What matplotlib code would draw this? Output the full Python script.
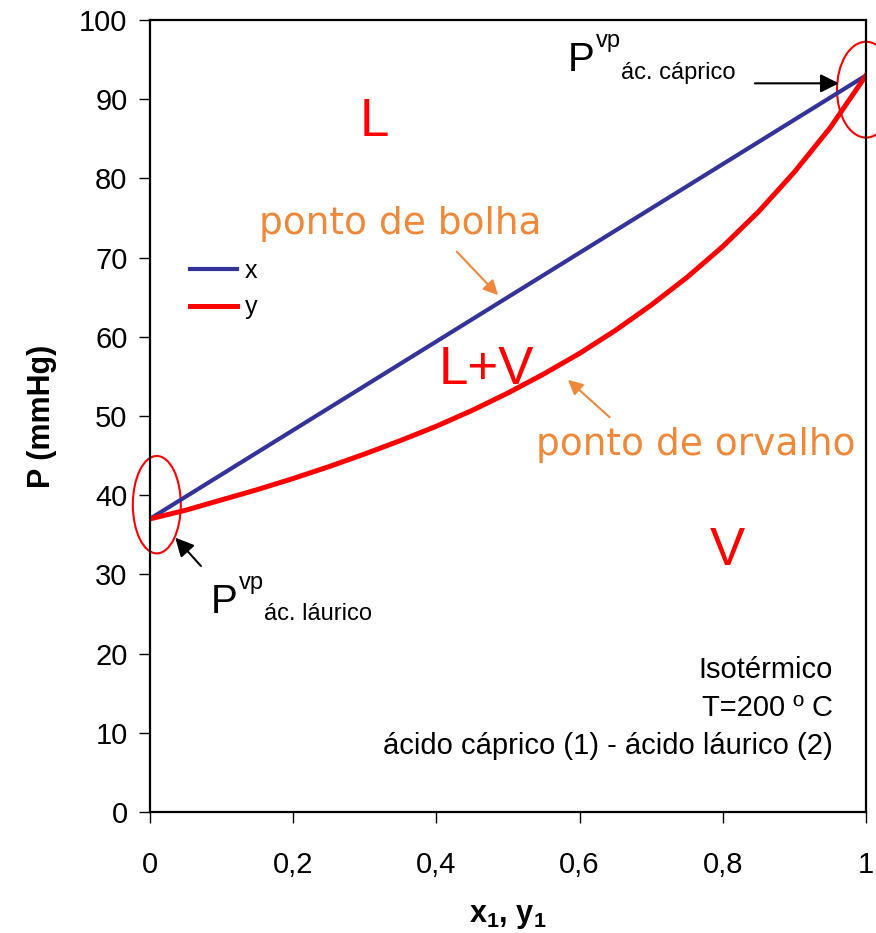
import matplotlib
matplotlib.use('Agg')
import matplotlib.pyplot as plt
from matplotlib.patches import Ellipse
from matplotlib.ticker import FuncFormatter

plt.rcParams['font.family'] = ['Liberation Sans', 'DejaVu Sans']
plt.rcParams['mathtext.fontset'] = 'custom'
plt.rcParams['mathtext.rm'] = 'Liberation Sans'
plt.rcParams['mathtext.bf'] = 'Liberation Sans:bold'

# Data
x1 = [0.0, 0.05, 0.1, 0.15, 0.2, 0.25, 0.3, 0.35, 0.4, 0.45, 0.5,
      0.55, 0.6, 0.65, 0.7, 0.75, 0.8, 0.85, 0.9, 0.95, 1.0]
p_bubble = [37.0, 39.8, 42.6, 45.4, 48.2, 51.0, 53.8, 56.6, 59.4, 62.2, 65.0,
            67.8, 70.6, 73.4, 76.2, 79.0, 81.8, 84.6, 87.4, 90.2, 93.0]
p_dew = [37.0, 38.1, 39.4, 40.7, 42.1, 43.6, 45.2, 46.9, 48.7, 50.7, 52.9,
         55.3, 57.9, 60.8, 64.0, 67.5, 71.4, 75.8, 80.8, 86.4, 93.0]

x_ticks = [0, 0.2, 0.4, 0.6, 0.8, 1.0]
y_ticks = list(range(0, 101, 10))

orange = '#F0883A'
blue = '#333399'

fig = plt.figure(figsize=(8.76, 9.33), dpi=100)
ax = fig.add_axes([0.171, 0.1297, 0.8176, 0.8489])

ax.plot(x1, p_bubble, color=blue, lw=3, label='x')
ax.plot(x1, p_dew, color='red', lw=3.6, label='y')

ax.set_xlim(0, 1)
ax.set_ylim(0, 100)
ax.set_xticks(x_ticks)
ax.set_yticks(y_ticks)
ax.xaxis.set_major_formatter(FuncFormatter(lambda v, p: ('%g' % v).replace('.', ',')))
ax.tick_params(direction='out', length=8, width=1, labelsize=21, pad=8)
ax.tick_params(axis='x', pad=20)
for s in ax.spines.values():
    s.set_linewidth(1.6)

ax.set_xlabel(r'$\mathbf{x_1}$, $\mathbf{y_1}$', fontsize=22, fontweight='bold', labelpad=16)
ax.set_ylabel('P (mmHg)', fontsize=22, fontweight='bold', labelpad=16)

ax.legend(loc='upper left', bbox_to_anchor=(0.042, 0.711), borderaxespad=0, frameon=False,
          fontsize=18, handlelength=1.9, handletextpad=0.3, labelspacing=0.5)

# region labels
ax.text(0.314, 87.1, 'L', color='red', fontsize=38, ha='center', va='center')
ax.text(0.47, 55.8, 'L+V', color='red', fontsize=38, ha='center', va='center')
ax.text(0.806, 33.0, 'V', color='red', fontsize=38, ha='center', va='center')

# bubble / dew annotations
ax.text(0.349, 74.3, 'ponto de bolha', color=orange, fontsize=27, ha='center', va='center',
        family='DejaVu Sans')
ax.annotate('', xy=(0.489, 65.0), xytext=(0.426, 71.0),
            arrowprops=dict(arrowstyle='-|>', color=orange, lw=1.5, mutation_scale=22))
ax.text(0.762, 46.3, 'ponto de orvalho', color=orange, fontsize=27, ha='center', va='center',
        family='DejaVu Sans')
ax.annotate('', xy=(0.581, 54.8), xytext=(0.645, 49.6),
            arrowprops=dict(arrowstyle='-|>', color=orange, lw=1.5, mutation_scale=22))

# pure component vapour pressures
ax.add_patch(Ellipse((1.0, 91.2), 0.081, 12.1, fill=False, ec='red', lw=1.5, clip_on=False))
ax.add_patch(Ellipse((0.0098, 38.8), 0.067, 12.3, fill=False, ec='red', lw=1.5, clip_on=False))

ax.annotate('', xy=(0.966, 92.0), xytext=(0.841, 92.0),
            arrowprops=dict(arrowstyle='-|>', color='black', lw=1.5, mutation_scale=28))
ax.text(0.583, 93.5, 'P', fontsize=29, ha='left', va='baseline')
ax.text(0.623, 96.6, 'vp', fontsize=17, ha='left', va='baseline')
ax.text(0.658, 92.5, 'ác. cáprico', fontsize=17, ha='left', va='baseline')

ax.annotate('', xy=(0.033, 34.9), xytext=(0.074, 30.8),
            arrowprops=dict(arrowstyle='-|>', color='black', lw=1.5, mutation_scale=28))
ax.text(0.085, 25.1, 'P', fontsize=29, ha='left', va='baseline')
ax.text(0.124, 28.2, 'vp', fontsize=17, ha='left', va='baseline')
ax.text(0.159, 24.2, 'ác. láurico', fontsize=17, ha='left', va='baseline')

ax.text(0.954, 6.6, 'Isotérmico\nT=200 º C\nácido cáprico (1) - ácido láurico (2)',
        fontsize=21, ha='right', va='bottom', multialignment='right', linespacing=1.45)

fig.savefig('out.png', dpi=100)
